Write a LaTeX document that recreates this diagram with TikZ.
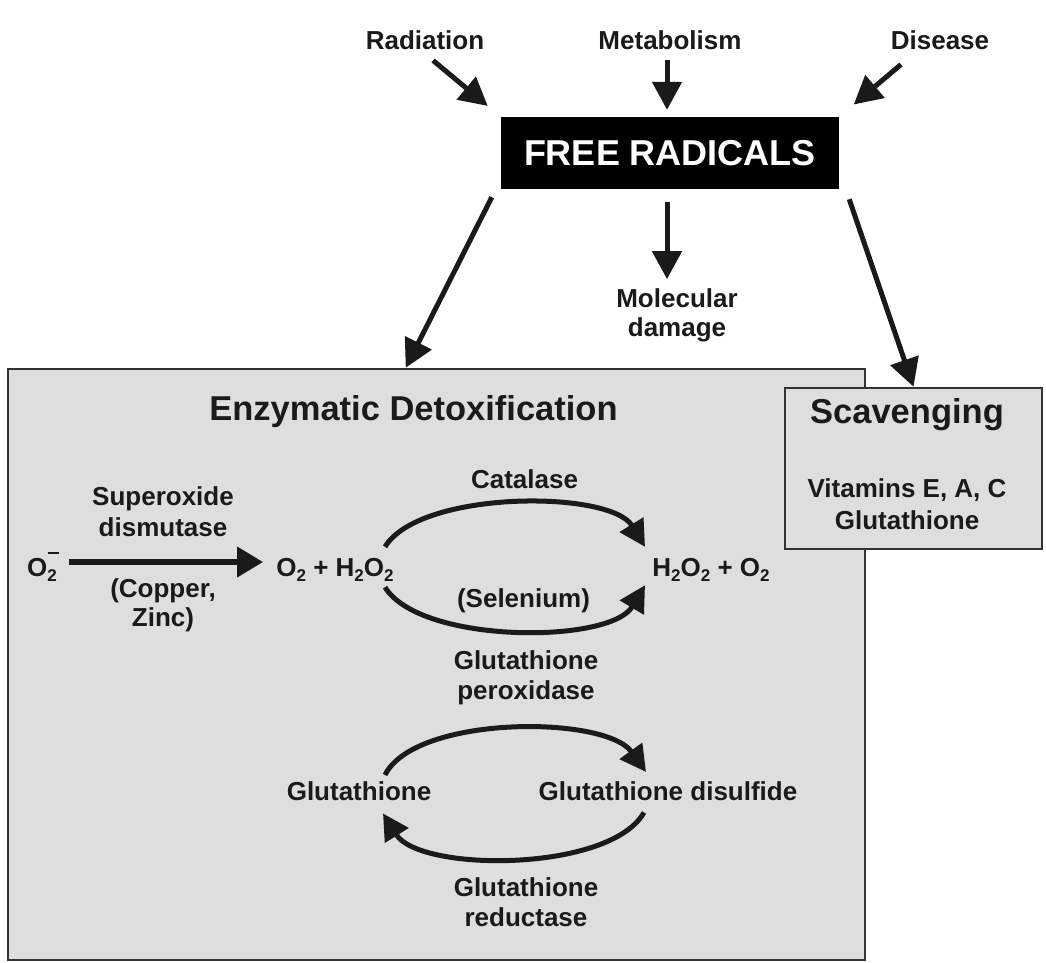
\documentclass[tikz,border=0pt]{standalone}
\usepackage{fontspec}
\setmainfont{Liberation Sans}
\usetikzlibrary{arrows.meta}
\definecolor{boxgray}{HTML}{DEDEDE}
\definecolor{ink}{HTML}{1A1A1A}
\definecolor{edge}{HTML}{333333}
\newcommand{\sbs}[1]{\raisebox{-5pt}{\fontsize{17}{17}\selectfont #1}}
\newcommand{\supmin}{\rlap{\hspace{0.5pt}\raisebox{22pt}{\rule{11pt}{2.2pt}}}}
\begin{document}
\begin{tikzpicture}[x=1pt,y=-1pt,
  lbl/.style={font=\fontsize{26}{30}\selectfont\bfseries, text=ink, inner sep=2pt},
  mlbl/.style={lbl, align=center},
  row/.style={lbl, text height=21pt, text depth=7pt, anchor=base},
  head/.style={font=\fontsize{34.5}{40}\selectfont\bfseries, text=ink, inner sep=2pt, anchor=base},
  panel/.style={draw=edge, line width=2.5pt, fill=boxgray, rectangle, inner sep=0pt},
  arr/.style={draw=ink, line width=5pt, -{Triangle[length=28pt,width=29pt]}},
  arcarr/.style={draw=ink, line width=5pt, -{Triangle[length=26pt,width=27pt]}},
  bigarr/.style={draw=ink, line width=6.5pt, -{Triangle[length=26pt,width=29pt]}}]
\useasboundingbox (0,0) rectangle (1046,963);
\fill[white] (0,0) rectangle (1046,963);

% panels
\node[panel, minimum width=857pt, minimum height=591pt] (ed) at (436.5,664.5) {};
\node[panel, minimum width=257pt, minimum height=161pt] (scav) at (913.5,468.5) {};

% top labels
\node[lbl, anchor=base] (rad) at (425,50) {Radiation};
\node[lbl, anchor=base] (met) at (670,50) {Metabolism};
\node[lbl, anchor=base] (dis) at (940,50) {Disease};

\node[fill=black, text=white, font=\fontsize{36}{40}\selectfont\bfseries,
      minimum width=338pt, minimum height=72pt, inner sep=0pt] (fr) at (670,153) {FREE RADICALS};

\node[mlbl, font=\fontsize{26}{29}\selectfont\bfseries] (dam) at (677,315) {Molecular\\damage};

% headings
\node[head] (edt) at (413.5,420) {Enzymatic Detoxification};
\node[head] (scavt) at (907,423) {Scavenging};
\node[mlbl, font=\fontsize{26}{32}\selectfont\bfseries] (vit) at (907,504.5) {Vitamins E, A, C\\Glutathione};

% reaction row
\node[row, anchor=base west] (o2m) at (25,576) {O\supmin\sbs{2}};
\node[row] (o2h) at (335,576) {O\sbs{2} + H\sbs{2}O\sbs{2}};
\node[row] (h2o) at (711,576) {H\sbs{2}O\sbs{2} + O\sbs{2}};

\node[mlbl, font=\fontsize{26}{31}\selectfont\bfseries] (sod) at (163,511.5) {Superoxide\\dismutase};
\node[mlbl, font=\fontsize{26}{29}\selectfont\bfseries] (cz) at (163,605) {(Copper,\\Zinc)};
\node[lbl, anchor=base] (cat) at (524.5,488) {Catalase};
\node[lbl, anchor=base] (sel) at (523.5,607) {(Selenium)};
\node[mlbl] (gpx) at (526,678) {Glutathione\\peroxidase};

% glutathione cycle
\node[lbl, anchor=base] (glu) at (359,800) {Glutathione};
\node[lbl, anchor=base] (gdis) at (668,800) {Glutathione disulfide};
\node[mlbl] (gred) at (526,902.5) {Glutathione\\reductase};

% connectors into free radicals
\draw[arr, shorten >=17pt] ([xshift=8pt,yshift=-8pt]rad.south) -- (fr.north west);
\draw[arr, shorten >=7pt] ([xshift=-3pt,yshift=-8pt]met.south) -- ([xshift=-3pt]fr.north);
\draw[arr, shorten >=19pt] ([xshift=-39pt,yshift=-12pt]dis.south) -- (fr.north east);

% connectors out of free radicals
\draw[arr] ([xshift=-9pt,yshift=-8pt]fr.south west) -- ([xshift=399pt]ed.north west);
\draw[arr, shorten <=13pt, shorten >=7pt] ([xshift=-3pt]fr.south) -- ([xshift=-10pt]dam.north);
\draw[arr] ([xshift=10pt,yshift=-10pt]fr.south east) -- (scav.north);

% superoxide dismutase
\draw[bigarr, shorten >=11pt] ([xshift=10pt,yshift=7pt]o2m.east) -- ([yshift=7pt]o2h.west);

% catalase / glutathione peroxidase arcs
\draw[arcarr] ([xshift=50pt,yshift=6pt]o2h.north) .. controls +(35,-57) and +(-35,-57) .. ([xshift=-66pt,yshift=6pt]h2o.north);
\draw[arcarr] ([xshift=50pt,yshift=-2pt]o2h.south) .. controls +(35,57) and +(-35,59) .. ([xshift=-66pt]h2o.south);

% glutathione cycle arcs
\draw[arcarr] ([xshift=26pt,yshift=4pt]glu.north) .. controls +(30,-60) and +(-41,-57) .. ([xshift=-22pt,yshift=7pt]gdis.north);
\draw[arcarr] ([xshift=-24pt,yshift=-10pt]gdis.south) .. controls +(-34,60) and +(37,59) .. ([xshift=24pt,yshift=-11pt]glu.south);
\end{tikzpicture}
\end{document}
